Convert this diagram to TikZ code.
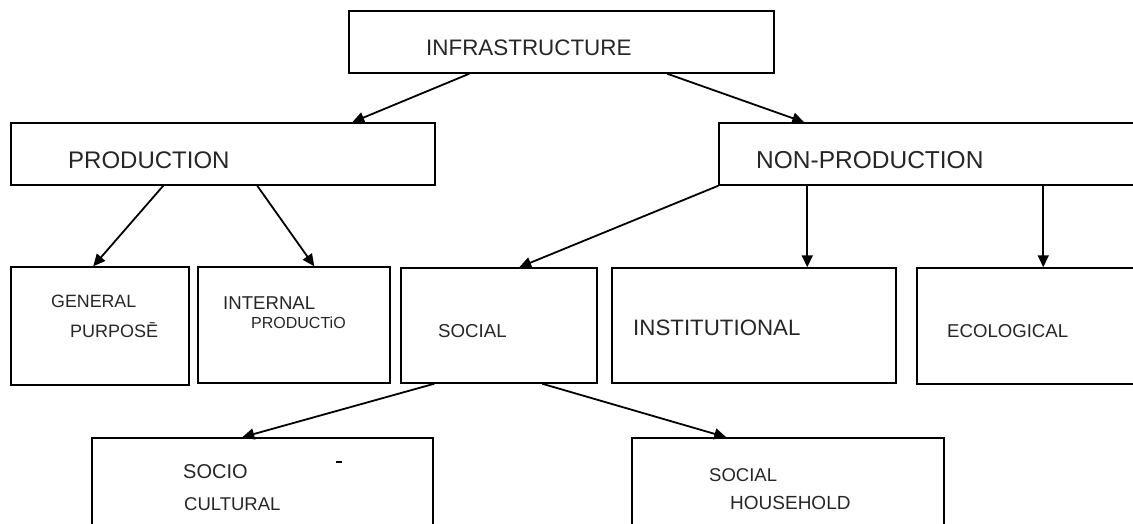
\documentclass[tikz,border=0pt]{standalone}
\usepackage{fontspec}
\setmainfont{Liberation Sans}
\usetikzlibrary{arrows.meta}
\tikzset{
  box/.style={draw=black, line width=1.5pt, rectangle, inner sep=0pt, fill=none},
  conn/.style={line width=1.8pt, -{Triangle[length=12pt,width=11pt]}},
  lbl/.style={anchor=base west, inner sep=0pt, text=black!85},
}
\newcommand{\fs}[1]{\fontsize{#1}{#1}\selectfont}
\begin{document}
\begin{tikzpicture}[x=1pt,y=-1pt]
\clip (0,0) rectangle (1133,524);
\fill[white] (0,0) rectangle (1133,524);
% boxes
\node[box, minimum width=425pt, minimum height=62pt] (infra) at (561.5,42) {};
\node[box, minimum width=424pt, minimum height=62pt] (prod) at (223,154) {};
\node[box, minimum width=426pt, minimum height=62pt] (nonprod) at (932,154) {};
\node[box, minimum width=178pt, minimum height=118pt] (gen) at (100,326) {};
\node[box, minimum width=192pt, minimum height=116pt] (intl) at (294,325) {};
\node[box, minimum width=196pt, minimum height=115pt] (social) at (499,325.5) {};
\node[box, minimum width=284pt, minimum height=115pt] (inst) at (754,325.5) {};
\node[box, minimum width=228pt, minimum height=116pt] (eco) at (1031,326) {};
\node[box, minimum width=341pt, minimum height=102pt] (socio) at (262.5,489) {};
\node[box, minimum width=312pt, minimum height=102pt] (house) at (788,489) {};
% labels
\node[lbl] (tinfra) at (426,56) {\fs{22.4}INFRASTRUCTURE};
\node[lbl] (tprod) at (68,168) {\fs{24}PRODUCTION};
\node[lbl] (tnonprod) at (756,168) {\fs{24.5}NON-PRODUCTION};
\node[lbl] (tgen1) at (51,307) {\fs{17.8}GENERAL};
\node[lbl] (tgen2) at (70,337) {\fs{18}PURPOSĒ};
\node[lbl] (tint1) at (223,309) {\fs{18.6}INTERNAL};
\node[lbl] (tint2) at (251,328) {\fs{16}PRODUCTiO};
\node[lbl] (tsocial) at (438,337) {\fs{18.7}SOCIAL};
\node[lbl] (tinst) at (633,335) {\fs{22.3}INSTITUTIONAL};
\node[lbl] (teco) at (947,337) {\fs{18.6}ECOLOGICAL};
\node[lbl] (tsocio1) at (183,478) {\fs{20}SOCIO};
\node[anchor=center, inner sep=0pt] (tdash) at (339,462) {\rule{6pt}{1.3pt}};
\node[lbl] (tsocio2) at (184,510) {\fs{18.5}CULTURAL};
\node[lbl] (thouse1) at (709,481) {\fs{18.5}SOCIAL};
\node[lbl] (thouse2) at (730,509) {\fs{19}HOUSEHOLD};
% connectors
\draw[conn] ([xshift=121pt]infra.south west) -- ([xshift=342pt]prod.north west);
\draw[conn] ([xshift=319pt]infra.south west) -- ([xshift=86pt]nonprod.north west);
\draw[conn] ([xshift=153pt]prod.south west) -- ([xshift=83pt]gen.north west);
\draw[conn] ([xshift=247pt]prod.south west) -- ([xshift=117pt]intl.north west);
\draw[conn] (nonprod.south west) -- ([xshift=119pt]social.north west);
\draw[conn] ([xshift=89pt]nonprod.south west) -- ([xshift=196pt]inst.north west);
\draw[conn] ([xshift=325pt]nonprod.south west) -- ([xshift=127pt]eco.north west);
\draw[conn] ([xshift=34pt]social.south west) -- ([xshift=151pt]socio.north west);
\draw[conn] ([xshift=142pt]social.south west) -- ([xshift=95pt]house.north west);
\end{tikzpicture}
\end{document}
